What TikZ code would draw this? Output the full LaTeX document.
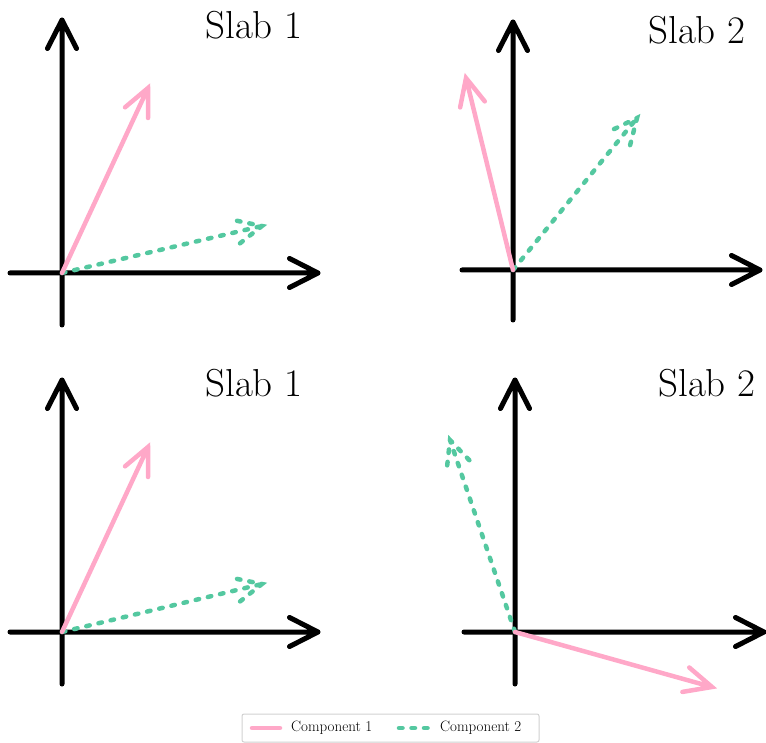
\documentclass[tikz,border=0pt]{standalone}
\usetikzlibrary{calc}
\definecolor{pinkc}{RGB}{255,168,200}
\definecolor{greenc}{RGB}{84,200,160}
\begin{document}
\begin{tikzpicture}[x=1pt,y=-1pt,
  axis/.style={line width=5pt,black,line cap=round,line join=round},
  pinkvec/.style={line width=4.5pt,pinkc,line cap=round,line join=miter},
  greenvec/.style={line width=4.5pt,greenc,line cap=round,dash pattern=on 3.5pt off 9pt},
  title/.style={font=\fontsize{39}{44}\selectfont,inner sep=0pt},
  legtext/.style={font=\fontsize{15}{17}\selectfont,inner sep=0pt,anchor=west}]
\useasboundingbox (0,0) rectangle (766,743);
% panel origins and ends
\foreach \n/\ox/\oy/\xl/\xr/\yb/\yt/\px/\py/\gx/\gy in {
  a/62/273/10/318/325/20/148/88/262/226,
  b/513/270/462/760/320/22/466/78/637/118,
  c/62/632/10/318/684/380/148/447/262/584,
  d/515/632/464/764/684/380/712/687/450/440}{
  \coordinate (o\n) at (\ox,\oy);
  \coordinate (xl\n) at (\xl,\oy);
  \coordinate (xr\n) at (\xr,\oy);
  \coordinate (yb\n) at (\ox,\yb);
  \coordinate (yt\n) at (\ox,\yt);
  \coordinate (p\n) at (\px,\py);
  \coordinate (g\n) at (\gx,\gy);
  \draw[axis] (xl\n) -- (xr\n) ($(xr\n)!32pt!27:(xl\n)$) -- (xr\n) -- ($(xr\n)!32pt!-27:(xl\n)$);
  \draw[axis] (yb\n) -- (yt\n) ($(yt\n)!32pt!27:(yb\n)$) -- (yt\n) -- ($(yt\n)!32pt!-27:(yb\n)$);
}
\foreach \n in {a,b,c,d}{
  \draw[greenvec] (o\n) -- (g\n) ($(g\n)!28pt!25:(o\n)$) -- (g\n) -- ($(g\n)!28pt!-25:(o\n)$);
}
\foreach \n in {a,b,c,d}{
  \draw[pinkvec] (o\n) -- (p\n) ($(p\n)!30pt!25:(o\n)$) -- (p\n) -- ($(p\n)!30pt!-25:(o\n)$);
}
\node[title] (t1) at (254,25) {Slab 1};
\node[title] (t2) at (697,30) {Slab 2};
\node[title] (t3) at (254,383) {Slab 1};
\node[title] (t4) at (707,383) {Slab 2};
% legend
\draw[draw=black!18,line width=1pt,rounded corners=2pt,fill=white] (242,714) rectangle (539,742);
\coordinate (l1a) at (252,728); \coordinate (l1b) at (280,728);
\coordinate (l2a) at (399,728); \coordinate (l2b) at (428,728);
\draw[pinkvec] (l1a) -- (l1b);
\draw[greenvec] (l2a) -- (l2b);
\node[legtext] (c1) at (291,728) {Component 1};
\node[legtext] (c2) at (440,728) {Component 2};
\end{tikzpicture}
\end{document}
